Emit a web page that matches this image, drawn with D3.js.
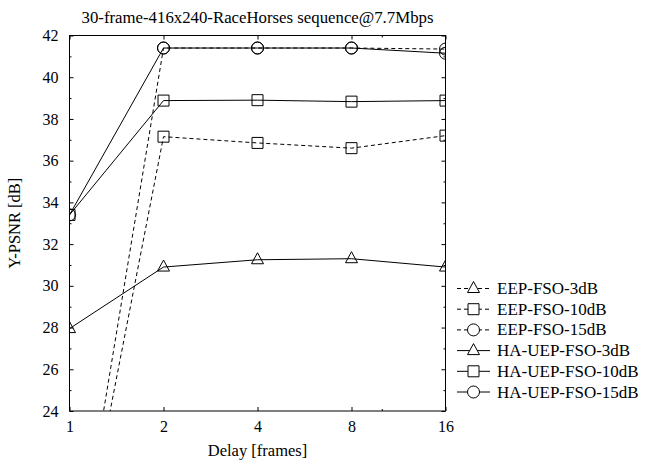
<!DOCTYPE html>
<html>
<head>
<meta charset="utf-8">
<script src="https://cdn.jsdelivr.net/npm/d3@7"></script>
<style>
  body { margin: 0; background: #fff; }
  svg text { font-family: "Liberation Serif", "DejaVu Serif", serif; fill: #000; }
</style>
</head>
<body>
<svg id="chart" width="659" height="461"></svg>
<script>
// data
var delays = [1, 2, 4, 8, 16];
var seriesNames = ["EEP-FSO-3dB", "EEP-FSO-10dB", "EEP-FSO-15dB",
                   "HA-UEP-FSO-3dB", "HA-UEP-FSO-10dB", "HA-UEP-FSO-15dB"];
var eep3 = [13.8, 21.5, 21.8, 21.9, 21.6];   // never visible, below the axis
var eep10 = [14.0, 37.15, 36.85, 36.6, 37.2];
var eep15 = [14.1, 41.4, 41.4, 41.4, 41.35];
var uep3 = [27.95, 30.9, 31.25, 31.3, 30.9];
var uep10 = [33.4, 38.88, 38.9, 38.83, 38.88];
var uep15 = [33.4, 41.4, 41.4, 41.4, 41.15];
var yTicks = [24, 26, 28, 30, 32, 34, 36, 38, 40, 42];
var yMinor = [25, 27, 29, 31, 33, 35, 37, 39, 41];
var xMinor = [10];
var title = "30-frame-416x240-RaceHorses sequence@7.7Mbps";

var series = [
  { name: seriesNames[0], values: eep3, dashed: true, marker: "triangle" },
  { name: seriesNames[1], values: eep10, dashed: true, marker: "square" },
  { name: seriesNames[2], values: eep15, dashed: true, marker: "circle" },
  { name: seriesNames[3], values: uep3, dashed: false, marker: "triangle" },
  { name: seriesNames[4], values: uep10, dashed: false, marker: "square" },
  { name: seriesNames[5], values: uep15, dashed: false, marker: "circle" }
];

var svg = d3.select("#chart");
var pLeft = 69.5, pRight = 445.5, pTop = 35.5, pBottom = 411;

var x = d3.scaleLog().base(2).domain([1, 16]).range([pLeft, pRight]);
var y = d3.scaleLinear().domain([24, 42]).range([pBottom, pTop]);

var fmt = d3.format("d");

function styleAxis(g) {
  g.select(".domain").remove();
  g.selectAll(".tick line").attr("stroke", "#000").attr("stroke-width", 1);
  g.selectAll(".tick text").style("font-size", "16px").attr("fill", "#000");
}

// major ticks, pointing inward
svg.append("g").attr("transform", "translate(0," + pBottom + ")")
  .call(d3.axisBottom(x).tickValues(delays).tickFormat(fmt).tickSize(-4).tickPadding(10))
  .call(styleAxis);
svg.append("g").attr("transform", "translate(0," + pTop + ")")
  .call(d3.axisTop(x).tickValues(delays).tickFormat("").tickSize(-4))
  .call(styleAxis);
svg.append("g").attr("transform", "translate(" + pLeft + ",0)")
  .call(d3.axisLeft(y).tickValues(yTicks).tickFormat(fmt).tickSize(-4).tickPadding(11))
  .call(styleAxis);
svg.append("g").attr("transform", "translate(" + pRight + ",0)")
  .call(d3.axisRight(y).tickValues(yTicks).tickFormat("").tickSize(-4))
  .call(styleAxis);

// minor ticks
svg.append("g").attr("transform", "translate(0," + pBottom + ")")
  .call(d3.axisBottom(x).tickValues(xMinor).tickFormat("").tickSize(-2)).call(styleAxis);
svg.append("g").attr("transform", "translate(0," + pTop + ")")
  .call(d3.axisTop(x).tickValues(xMinor).tickFormat("").tickSize(-2)).call(styleAxis);
svg.append("g").attr("transform", "translate(" + pLeft + ",0)")
  .call(d3.axisLeft(y).tickValues(yMinor).tickFormat("").tickSize(-2)).call(styleAxis);
svg.append("g").attr("transform", "translate(" + pRight + ",0)")
  .call(d3.axisRight(y).tickValues(yMinor).tickFormat("").tickSize(-2)).call(styleAxis);

// frame
svg.append("rect")
  .attr("x", pLeft).attr("y", pTop)
  .attr("width", pRight - pLeft).attr("height", pBottom - pTop)
  .attr("fill", "none").attr("stroke", "#000").attr("stroke-width", 1);

svg.append("defs").append("clipPath").attr("id", "plotclip")
  .append("rect").attr("x", pLeft).attr("y", pTop)
  .attr("width", pRight - pLeft).attr("height", pBottom - pTop);

function markerPath(type) {
  if (type === "circle") return d3.symbol().type(d3.symbolCircle).size(Math.PI * 36)();
  if (type === "square") return "M-5.5,-5.5H5.5V5.5H-5.5Z";
  return "M0,-7L6,4H-6Z";
}

var line = d3.line()
  .x(function(d) { return x(d.x); })
  .y(function(d) { return y(d.y); });

var plot = svg.append("g").attr("clip-path", "url(#plotclip)");

series.forEach(function(s) {
  var pts = delays.map(function(d, i) { return { x: d, y: s.values[i] }; });
  plot.append("path")
    .datum(pts)
    .attr("d", line)
    .attr("fill", "none")
    .attr("stroke", "#000")
    .attr("stroke-width", 1)
    .attr("stroke-dasharray", s.dashed ? "4,3" : null);
  plot.selectAll(null).data(pts).enter().append("path")
    .attr("transform", function(p) { return "translate(" + x(p.x) + "," + y(p.y) + ")"; })
    .attr("d", markerPath(s.marker))
    .attr("fill", "none")
    .attr("stroke", "#000")
    .attr("stroke-width", 1);
});

// legend
var legend = svg.append("g");
series.forEach(function(s, i) {
  var ly = 288.5 + i * 20.7;
  legend.append("line")
    .attr("x1", 457).attr("x2", 490).attr("y1", ly).attr("y2", ly)
    .attr("stroke", "#000").attr("stroke-width", 1)
    .attr("stroke-dasharray", s.dashed ? "4,3" : null);
  legend.append("path")
    .attr("transform", "translate(473.5," + ly + ")")
    .attr("d", markerPath(s.marker))
    .attr("fill", "#fff").attr("stroke", "#000");
  legend.append("text")
    .attr("x", 497).attr("y", ly + 5.5)
    .style("font-size", "17px")
    .text(s.name);
});

// titles
svg.append("text")
  .attr("x", (pLeft + pRight) / 2).attr("y", 22.5)
  .attr("text-anchor", "middle")
  .style("font-size", "16.8px")
  .text(title);
svg.append("text")
  .attr("x", (pLeft + pRight) / 2).attr("y", 456)
  .attr("text-anchor", "middle")
  .style("font-size", "16.5px")
  .text("Delay [frames]");
svg.append("text")
  .attr("transform", "translate(20," + ((pTop + pBottom) / 2) + ") rotate(-90)")
  .attr("text-anchor", "middle")
  .style("font-size", "16.5px")
  .text("Y-PSNR [dB]");
</script>
</body>
</html>
